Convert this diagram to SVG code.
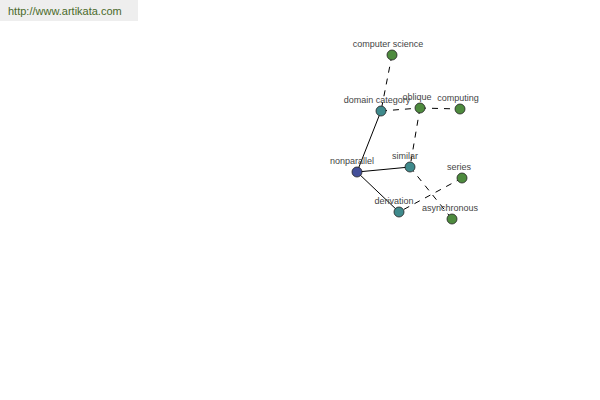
<svg xmlns="http://www.w3.org/2000/svg" width="600" height="400" viewBox="0 0 600 400">
<style>
.n{stroke:#222;stroke-width:0.8}
.g{fill:#4e8b3e}.t{fill:#3f8a8c}.b{fill:#44509a}
.s{stroke:#000;stroke-width:1;fill:none}
.d{stroke:#000;stroke-width:1;fill:none;stroke-dasharray:6,6}
text{font-family:"Liberation Sans",Arial,sans-serif;font-size:9px;fill:#444;text-anchor:middle}
.w{font-size:11px;fill:#4a6a2a;text-anchor:start}
</style>
<rect width="600" height="400" fill="#fff"/>
<rect x="0" y="0" width="138" height="21" fill="#eeeeee"/>
<text class="w" x="8" y="15">http://www.artikata.com</text>
<g id="connectors">
<line class="d" x1="392" y1="55" x2="381" y2="111"/>
<line class="d" x1="381" y1="111" x2="420" y2="108"/>
<line class="d" x1="420" y1="108" x2="460" y2="109"/>
<line class="d" x1="420" y1="108" x2="410" y2="167"/>
<line class="d" x1="410" y1="167" x2="452" y2="219"/>
<line class="d" x1="462" y1="178" x2="399" y2="212"/>
<line class="s" x1="357" y1="172" x2="381" y2="111"/>
<line class="s" x1="357" y1="172" x2="410" y2="167"/>
<line class="s" x1="357" y1="172" x2="399" y2="212"/>
</g>
<g id="computer-science"><circle class="n g" cx="392" cy="55" r="5"/><text x="388" y="47">computer science</text></g>
<g id="domain-category"><circle class="n t" cx="381" cy="111" r="5"/><text x="377" y="103">domain category</text></g>
<g id="oblique"><circle class="n g" cx="420" cy="108" r="5"/><text x="417" y="100">oblique</text></g>
<g id="computing"><circle class="n g" cx="460" cy="109" r="5"/><text x="458" y="101">computing</text></g>
<g id="nonparallel"><circle class="n b" cx="357" cy="172" r="5"/><text x="352" y="164">nonparallel</text></g>
<g id="similar"><circle class="n t" cx="410" cy="167" r="5"/><text x="405" y="159">similar</text></g>
<g id="series"><circle class="n g" cx="462" cy="178" r="5"/><text x="459" y="170">series</text></g>
<g id="derivation"><circle class="n t" cx="399" cy="212" r="5"/><text x="394" y="204">derivation</text></g>
<g id="asynchronous"><circle class="n g" cx="452" cy="219" r="5"/><text x="450" y="211">asynchronous</text></g>
</svg>
